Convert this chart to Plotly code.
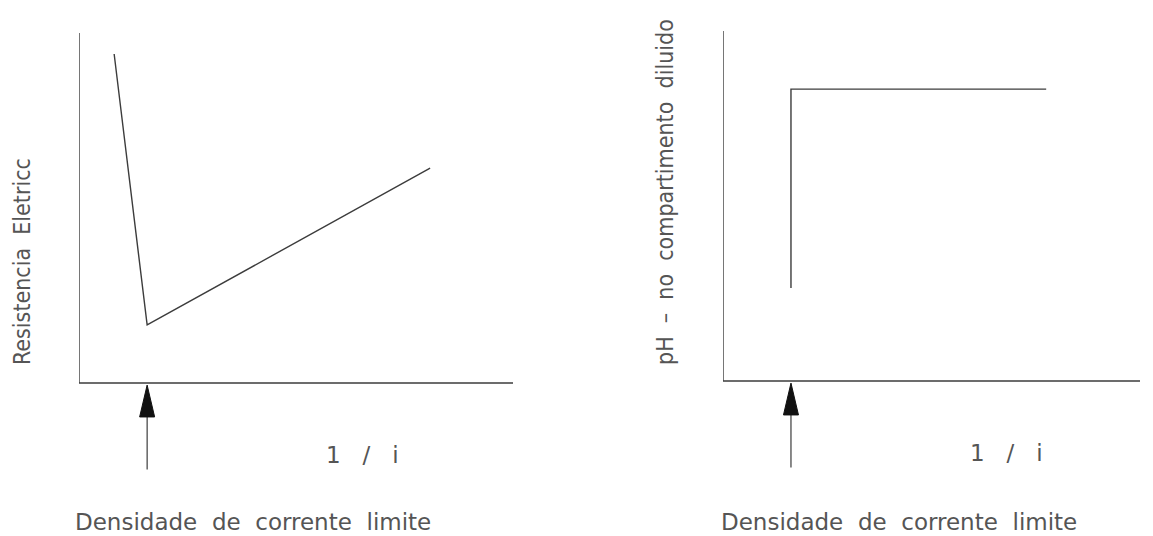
import plotly.graph_objects as go

# Left panel: electrical resistance versus 1/i
res_x = [0.81, 1.57, 8.09]
res_y = [9.40, 1.66, 6.14]

# Right panel: pH in the diluate compartment versus 1/i
ph_x = [1.63, 1.63, 7.75]
ph_y = [2.66, 8.34, 8.34]

# Limiting current density marker (x position on each panel)
lim_left = res_x[1]
lim_right = ph_x[0]

axis_len_x = 10.0
axis_len_y = 10.0

LINE = "#3c3c3c"
TEXT = "#555555"
W, H = 1153, 536

fig = go.Figure()

# panel geometry: (x-domain in px, y of x-axis in px)
panels = [
    dict(xa="x", ya="y", x0=79, x1=513, base=383, cx=res_x, cy=res_y, lim=lim_left),
    dict(xa="x2", ya="y2", x0=723, x1=1140, base=381, cx=ph_x, cy=ph_y, lim=lim_right),
]
PX_PER_Y = 35.0

layout_axes = {}
for i, p in enumerate(panels):
    sfx = "" if i == 0 else str(i + 1)
    px_per_x = (p["x1"] - p["x0"]) / axis_len_x
    layout_axes["xaxis" + sfx] = dict(
        domain=[p["x0"] / W, p["x1"] / W], range=[0, axis_len_x],
        visible=False, anchor="y" + sfx, fixedrange=True,
    )
    layout_axes["yaxis" + sfx] = dict(
        domain=[0, 1],
        range=[-(H - p["base"]) / PX_PER_Y, p["base"] / PX_PER_Y],
        visible=False, anchor="x" + sfx, fixedrange=True,
    )
    # L-shaped axes
    fig.add_trace(go.Scatter(
        x=[0, 0, axis_len_x], y=[axis_len_y, 0, 0], mode="lines",
        line=dict(color=LINE, width=1.4), xaxis=p["xa"], yaxis=p["ya"],
        hoverinfo="skip", showlegend=False))
    # curve
    fig.add_trace(go.Scatter(
        x=p["cx"], y=p["cy"], mode="lines",
        line=dict(color=LINE, width=1.4), xaxis=p["xa"], yaxis=p["ya"],
        hoverinfo="skip", showlegend=False))
    # arrow shaft
    fig.add_trace(go.Scatter(
        x=[p["lim"], p["lim"]], y=[-2.47, -0.9], mode="lines",
        line=dict(color=LINE, width=1.2), xaxis=p["xa"], yaxis=p["ya"],
        hoverinfo="skip", showlegend=False))
    # arrow head
    hw = 7.5 / px_per_x
    fig.add_trace(go.Scatter(
        x=[p["lim"] - hw, p["lim"], p["lim"] + hw, p["lim"] - hw],
        y=[-0.97, -0.06, -0.97, -0.97], mode="lines", fill="toself",
        fillcolor="#111111", line=dict(color="#111111", width=1),
        xaxis=p["xa"], yaxis=p["ya"], hoverinfo="skip", showlegend=False))

fig.update_layout(**layout_axes)

ann = []
font_x = dict(family="DejaVu Sans ExtraLight, DejaVu Sans", size=23, color=TEXT)
gap = "\u00a0" * 2
inv_i = "1" + "\u00a0" * 3 + "/" + "\u00a0" * 3 + "i"
ann.append(dict(text=inv_i, x=6.54, y=-2.06, xref="x", yref="y",
                xanchor="center", yanchor="middle", showarrow=False, font=font_x))
ann.append(dict(text=inv_i, x=6.79, y=-2.06, xref="x2", yref="y2",
                xanchor="center", yanchor="middle", showarrow=False, font=font_x))
label = gap.join(["Densidade", "de", "corrente", "limite"])
for cx in (253, 899):
    ann.append(dict(text=label, x=cx / W, y=1 - 522 / H, xref="paper", yref="paper",
                    xanchor="center", yanchor="middle", showarrow=False, font=font_x))
font_y = dict(family="Liberation Sans Narrow, DejaVu Sans Condensed, Arial Narrow",
              size=23, color=TEXT)
ann.append(dict(text="Resistencia\u00a0\u00a0Eletricc", x=22 / W, y=1 - 262 / H,
                xref="paper", yref="paper", textangle=-90, xanchor="center",
                yanchor="middle", showarrow=False, font=font_y))
ann.append(dict(text="pH\u00a0\u00a0–\u00a0\u00a0no\u00a0\u00a0compartimento\u00a0\u00a0diluido",
                x=665 / W, y=1 - 192 / H, xref="paper", yref="paper", textangle=-90,
                xanchor="center", yanchor="middle", showarrow=False, font=font_y))

fig.update_layout(
    width=W, height=H, margin=dict(l=0, r=0, t=0, b=0),
    paper_bgcolor="white", plot_bgcolor="white", annotations=ann,
    showlegend=False,
)

fig.write_html("out.html")
